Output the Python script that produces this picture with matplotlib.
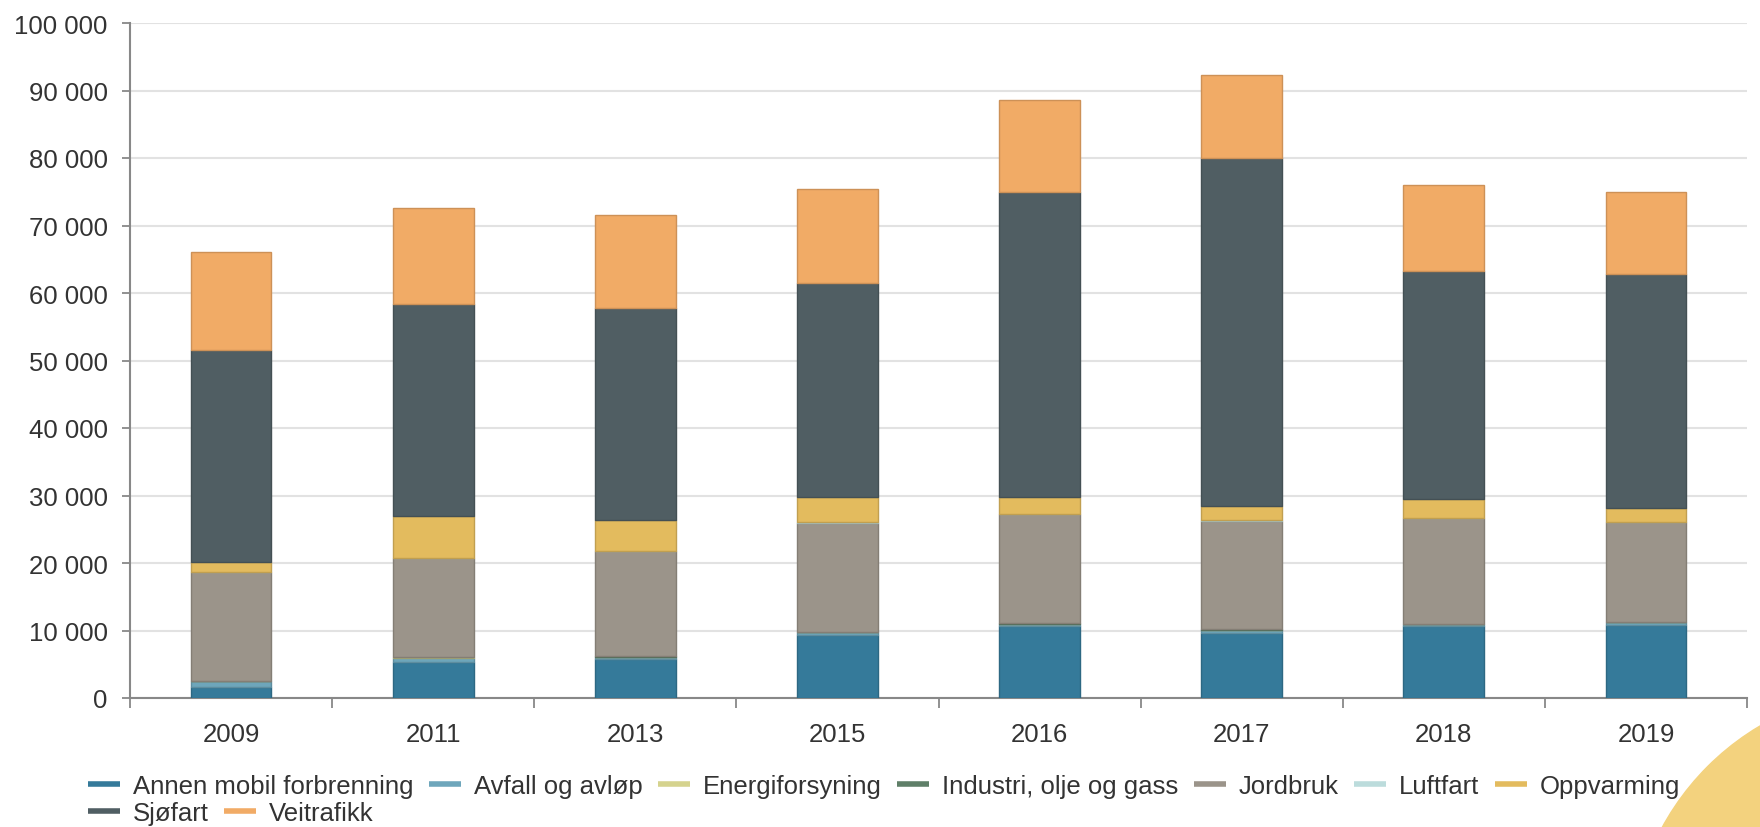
import numpy as np
import matplotlib.pyplot as plt
import matplotlib.colors as mcolors
from matplotlib.lines import Line2D
from matplotlib.patches import Ellipse

plt.rcParams['font.family'] = ['Liberation Sans', 'DejaVu Sans']

years = ["2009", "2011", "2013", "2015", "2016", "2017", "2018", "2019"]

# tonn CO2-ekv per sektor
annen_mobil = [1600, 5400, 5800, 9400, 10700, 9600, 10600, 10800]
avfall = [850, 600, 300, 400, 300, 500, 300, 400]
energi = [20, 30, 20, 20, 30, 20, 20, 20]
industri = [40, 30, 40, 30, 40, 30, 30, 40]
jordbruk = [16100, 14700, 15600, 16100, 16200, 16100, 15700, 14800]
luftfart = [60, 50, 50, 60, 50, 60, 50, 60]
oppvarming = [1500, 6200, 4500, 3800, 2400, 2200, 2800, 2100]
sjofart = [31400, 31300, 31400, 31700, 45300, 51500, 33700, 34600]
veitrafikk = [14500, 14300, 13900, 13900, 13500, 12300, 12800, 12200]

names = ["Annen mobil forbrenning", "Avfall og avløp", "Energiforsyning",
         "Industri, olje og gass", "Jordbruk", "Luftfart", "Oppvarming",
         "Sjøfart", "Veitrafikk"]
series = [annen_mobil, avfall, energi, industri, jordbruk, luftfart,
          oppvarming, sjofart, veitrafikk]
colors = ["#357a9a", "#6ea6bb", "#d5d38e", "#5f7f68", "#9b948a", "#bcdcdc",
          "#e3bb5e", "#505e63", "#f1ab66"]


def darker(c, f=0.85):
    r, g, b = mcolors.to_rgb(c)
    return (r * f, g * f, b * f)


fig = plt.figure(figsize=(17.6, 8.28), dpi=100)
ax = fig.add_axes([130 / 1760, 129 / 828, 1617 / 1760, 675 / 828])

# decorative circle in the bottom-right corner
circ = Ellipse((1895 / 1760, -127 / 828), 2 * 265 / 1760, 2 * 265 / 828,
               transform=fig.transFigure, color="#f3d27e", zorder=0)
fig.patches.append(circ)

x = np.arange(len(years))
bottom = np.zeros(len(years))
for vals, col in zip(series, colors):
    vals = np.array(vals, dtype=float)
    ax.bar(x, vals, 0.4, bottom=bottom, color=col, edgecolor=darker(col),
           linewidth=1, zorder=3)
    bottom += vals

ax.set_xlim(-0.5, len(years) - 0.5)
ax.set_ylim(0, 100000)
ax.set_yticks(np.arange(0, 100001, 10000))
ax.set_yticklabels([f"{v:,}".replace(",", " ") for v in range(0, 100001, 10000)])
ax.yaxis.grid(True, color="#e2e2e2", linewidth=1.5, zorder=0)
ax.set_axisbelow(True)

ax.set_xticks(np.arange(-0.5, len(years)), minor=False)
ax.set_xticklabels([])
ax.set_xticks(x, minor=True)
ax.set_xticklabels(years, minor=True)
ax.tick_params(axis="x", which="minor", length=0, pad=17)
ax.tick_params(axis="x", which="major", length=7, width=1.3, color="#888888")
ax.tick_params(axis="y", length=6, width=1.3, color="#888888", pad=10)
ax.tick_params(labelsize=18.5, labelcolor="#333333", which="both")

for s in ["top", "right"]:
    ax.spines[s].set_visible(False)
for s in ["left", "bottom"]:
    ax.spines[s].set_color("#888888")
    ax.spines[s].set_linewidth(1.5)

handles = [Line2D([0], [0], color=c, lw=4, solid_capstyle="butt") for c in colors]
leg_kw = dict(frameon=False, fontsize=18.5, handlelength=1.25, handletextpad=0.5,
              columnspacing=0.6, borderpad=0, borderaxespad=0, labelcolor="#333333")
leg1 = fig.legend(handles[:7], names[:7], ncol=7, loc="center left",
                  bbox_to_anchor=(88 / 1760, 1 - 787 / 828), **leg_kw)
leg2 = fig.legend(handles[7:], names[7:], ncol=2, loc="center left",
                  bbox_to_anchor=(88 / 1760, 1 - 814 / 828), **leg_kw)

fig.savefig("out.png", dpi=100)
